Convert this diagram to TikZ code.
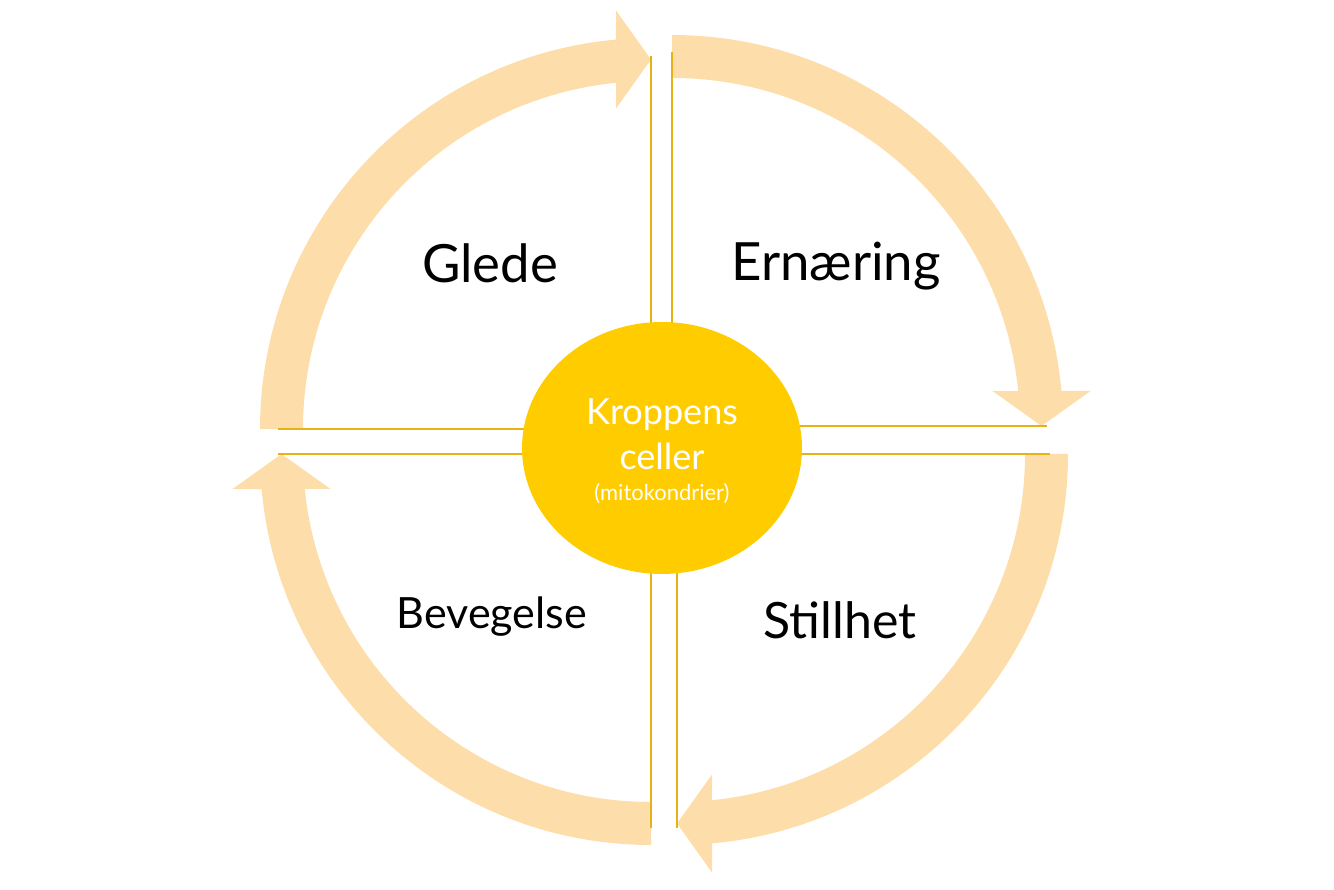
\documentclass[tikz,border=0pt]{standalone}
\usepackage{fontspec}
\setmainfont{Lato}
\usetikzlibrary{shapes.geometric}
\definecolor{arrowfill}{RGB}{253,222,171}
\definecolor{cellfill}{RGB}{255,204,0}
\definecolor{linecol}{RGB}{230,178,20}
\tikzset{
  band/.style={fill=arrowfill},
  axisline/.style={draw=linecol, line width=1.1pt},
  cell/.style={ellipse, fill=cellfill, minimum width=5.6cm, minimum height=5.04cm, inner sep=0pt, text=white, align=center},
  label/.style={anchor=base, text=black, inner sep=0pt}
}
% quarter arrow: centre x, centre y, rotation (0 = from left to top)
\newcommand\quarterarrow[3]{%
  \begin{scope}[shift={(#1,#2)}, rotate=#3]
    \fill[band] (180:391) arc[start angle=180, end angle=95.14, radius=391]
      -- (-35,418.5) -- (0,369.5) -- (-35,320.5) -- (95.77:348)
      arc[start angle=95.77, end angle=180, radius=348] -- cycle;
  \end{scope}}
\begin{document}
\begin{tikzpicture}[x=0.02cm, y=0.02cm]
\useasboundingbox (0,0) rectangle (1334,889);
% cycle arrows
\quarterarrow{651}{460}{0}
\quarterarrow{672}{463}{-90}
\quarterarrow{677}{435}{-180}
\quarterarrow{651}{435}{-270}
% end points of the axis lines
\coordinate (vtl) at (651,833);
\coordinate (vtr) at (672,837);
\coordinate (vbl) at (651,61);
\coordinate (vbr) at (677,61);
\coordinate (hlt) at (278,460);
\coordinate (hlb) at (278,435);
\coordinate (hrt) at (1047,463);
\coordinate (hrb) at (1050,435);
\coordinate (mid) at (662,441);
\draw[axisline] (vtl) -- (vtl |- mid);
\draw[axisline] (vtr) -- (vtr |- mid);
\draw[axisline] (vbl) -- (vbl |- mid);
\draw[axisline] (vbr) -- (vbr |- mid);
\draw[axisline] (hlt) -- (hlt -| mid);
\draw[axisline] (hlb) -- (hlb -| mid);
\draw[axisline] (hrt) -- (hrt -| mid);
\draw[axisline] (hrb) -- (hrb -| mid);
% centre
\node[cell] (cell) at (mid) {};
\node[anchor=base, text=white, inner sep=0pt, font=\fontsize{20.5}{24}\selectfont] (k1) at (662,464) {Kroppens};
\node[anchor=base, text=white, inner sep=0pt, font=\fontsize{20.5}{24}\selectfont] (k2) at (662,419) {celler};
\node[anchor=base, text=white, inner sep=0pt, font=\fontsize{12.5}{15}\selectfont] (k3) at (662,388) {(mitokondrier)};
% labels
\node[label, font=\fontsize{30}{36}\selectfont] (glede) at (490,606) {Glede};
\node[label, font=\fontsize{30}{36}\selectfont] (ern) at (836,608) {Ernæring};
\node[label, font=\fontsize{24.5}{30}\selectfont] (bev) at (492,260) {Bevegelse};
\node[label, font=\fontsize{28.5}{34}\selectfont] (still) at (840,251) {Stillhet};
\end{tikzpicture}
\end{document}
